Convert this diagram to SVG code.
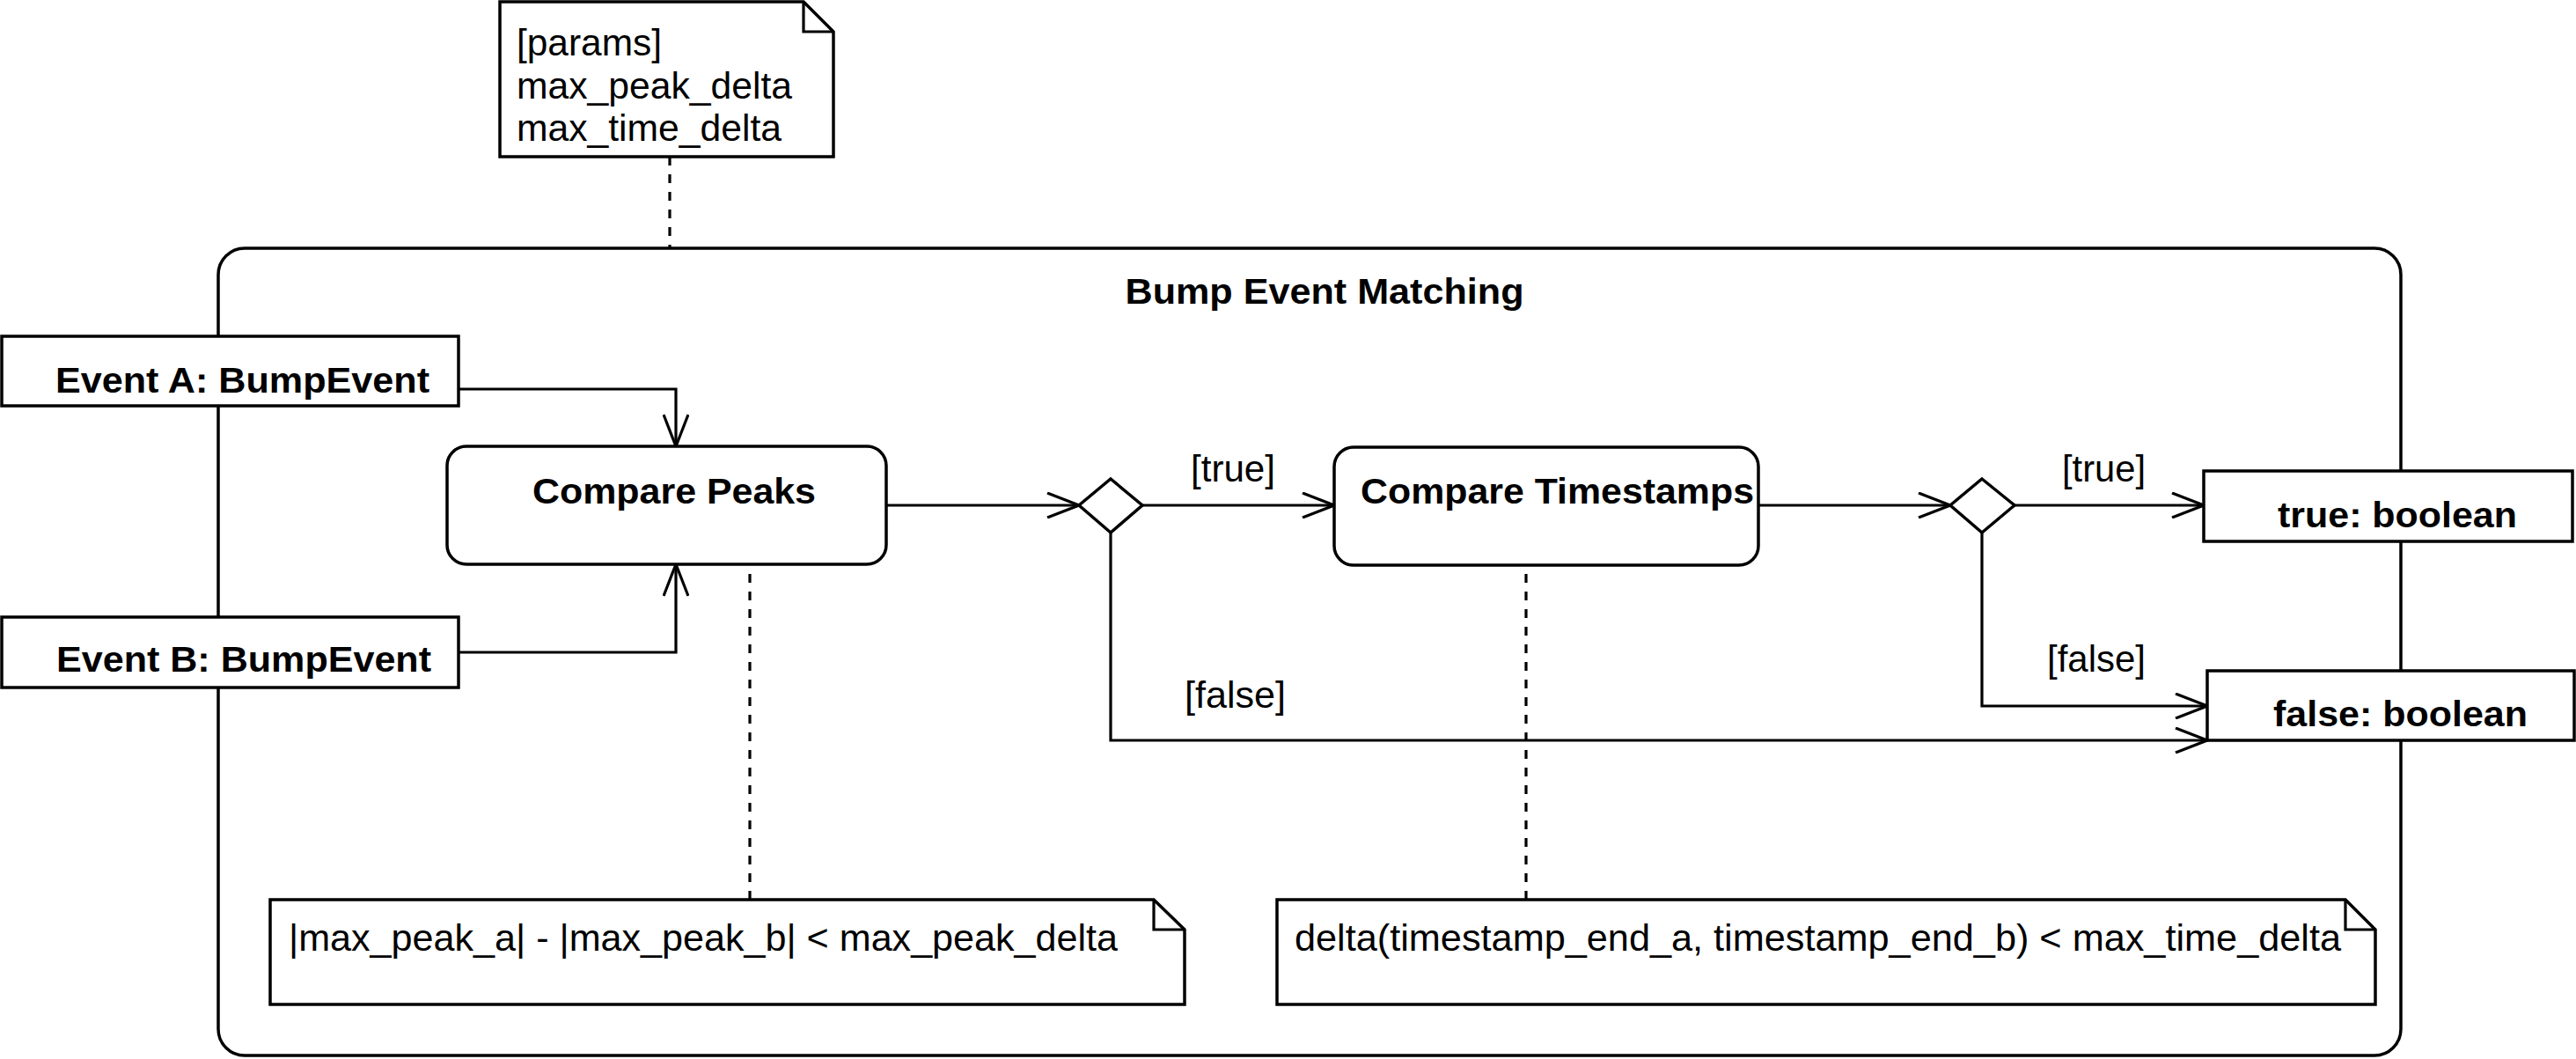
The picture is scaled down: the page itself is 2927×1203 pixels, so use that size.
<svg xmlns="http://www.w3.org/2000/svg" width="2927" height="1203" viewBox="0 0 2927 1203">
<style>
  text { font-family: "Liberation Sans", Arial, sans-serif; font-size: 42px; fill: #000; }
  .b { font-weight: bold; font-size: 41px; }
  .shape { fill: #fff; stroke: #000; stroke-width: 3.5; }
  .edge { fill: none; stroke: #000; stroke-width: 3.2; }
  .dash { fill: none; stroke: #000; stroke-width: 3.2; stroke-dasharray: 10 10; }
</style>
<defs>
  <marker id="open" viewBox="0 0 40 30" refX="38" refY="15" markerWidth="40" markerHeight="30" markerUnits="userSpaceOnUse" orient="auto">
    <path d="M2,1 L38,15 L2,29" fill="none" stroke="#000" stroke-width="3.2"/>
  </marker>
</defs>
<rect width="2927" height="1203" fill="#fff"/>

<g id="container">
  <rect class="shape" x="248" y="282" width="2480" height="917" rx="30" ry="30"/>
  <text class="b" x="1505" y="345" text-anchor="middle" textLength="453" lengthAdjust="spacingAndGlyphs">Bump Event Matching</text>
</g>

<g id="connectors">
  <path class="edge" d="M521,442 H768 V507" marker-end="url(#open)"/>
  <path class="edge" d="M521,741 H768 V641" marker-end="url(#open)"/>
  <path class="edge" d="M1007,574 H1226" marker-end="url(#open)"/>
  <path class="edge" d="M1298,574 H1516" marker-end="url(#open)"/>
  <path class="edge" d="M1262,605 V841 H2508" marker-end="url(#open)"/>
  <path class="edge" d="M1998,574 H2216" marker-end="url(#open)"/>
  <path class="edge" d="M2289,574 H2504" marker-end="url(#open)"/>
  <path class="edge" d="M2252,605 V802 H2508" marker-end="url(#open)"/>
  <path class="dash" d="M761,178 V282"/>
  <path class="dash" d="M852,652 V1022"/>
  <path class="dash" d="M1734,652 V1022"/>
  <text x="1353" y="547" textLength="96" lengthAdjust="spacingAndGlyphs">[true]</text>
  <text x="1346" y="804" textLength="115" lengthAdjust="spacingAndGlyphs">[false]</text>
  <text x="2343" y="547" textLength="95" lengthAdjust="spacingAndGlyphs">[true]</text>
  <text x="2326" y="763" textLength="112" lengthAdjust="spacingAndGlyphs">[false]</text>
</g>

<g id="params-note">
  <path class="shape" d="M568,2 H913 L947,36 V178 H568 Z"/>
  <path class="edge" d="M913,2 V36 H947"/>
  <text x="587" y="63" textLength="165" lengthAdjust="spacingAndGlyphs">[params]</text>
  <text x="587" y="112" textLength="313" lengthAdjust="spacingAndGlyphs">max_peak_delta</text>
  <text x="587" y="160" textLength="301" lengthAdjust="spacingAndGlyphs">max_time_delta</text>
</g>

<g id="event-a">
  <rect class="shape" x="2" y="382" width="519" height="79"/>
  <text class="b" x="63" y="446" textLength="425" lengthAdjust="spacingAndGlyphs">Event A: BumpEvent</text>
</g>

<g id="event-b">
  <rect class="shape" x="2" y="701" width="519" height="80"/>
  <text class="b" x="64" y="763" textLength="426" lengthAdjust="spacingAndGlyphs">Event B: BumpEvent</text>
</g>

<g id="compare-peaks">
  <rect class="shape" x="508" y="507" width="499" height="134" rx="22" ry="22"/>
  <text class="b" x="605" y="572" textLength="322" lengthAdjust="spacingAndGlyphs">Compare Peaks</text>
</g>

<g id="decision-1">
  <polygon class="shape" points="1262,544 1298,574 1262,605 1226,574"/>
</g>

<g id="compare-timestamps">
  <rect class="shape" x="1516" y="508" width="482" height="134" rx="22" ry="22"/>
  <text class="b" x="1546" y="572" textLength="447" lengthAdjust="spacingAndGlyphs">Compare Timestamps</text>
</g>

<g id="decision-2">
  <polygon class="shape" points="2252,544 2289,574 2252,605 2216,574"/>
</g>

<g id="true-result">
  <rect class="shape" x="2504" y="535" width="419" height="80"/>
  <text class="b" x="2588" y="599" textLength="272" lengthAdjust="spacingAndGlyphs">true: boolean</text>
</g>

<g id="false-result">
  <rect class="shape" x="2508" y="762" width="417" height="79"/>
  <text class="b" x="2583" y="825" textLength="289" lengthAdjust="spacingAndGlyphs">false: boolean</text>
</g>

<g id="peak-note">
  <path class="shape" d="M307,1022 H1311 L1346,1056 V1141 H307 Z"/>
  <path class="edge" d="M1311,1022 V1056 H1346"/>
  <text x="328" y="1080" textLength="942" lengthAdjust="spacingAndGlyphs">|max_peak_a| - |max_peak_b| &lt; max_peak_delta</text>
</g>

<g id="time-note">
  <path class="shape" d="M1451,1022 H2665 L2699,1056 V1141 H1451 Z"/>
  <path class="edge" d="M2665,1022 V1056 H2699"/>
  <text x="1471" y="1080" textLength="1189" lengthAdjust="spacingAndGlyphs">delta(timestamp_end_a, timestamp_end_b) &lt; max_time_delta</text>
</g>
</svg>
